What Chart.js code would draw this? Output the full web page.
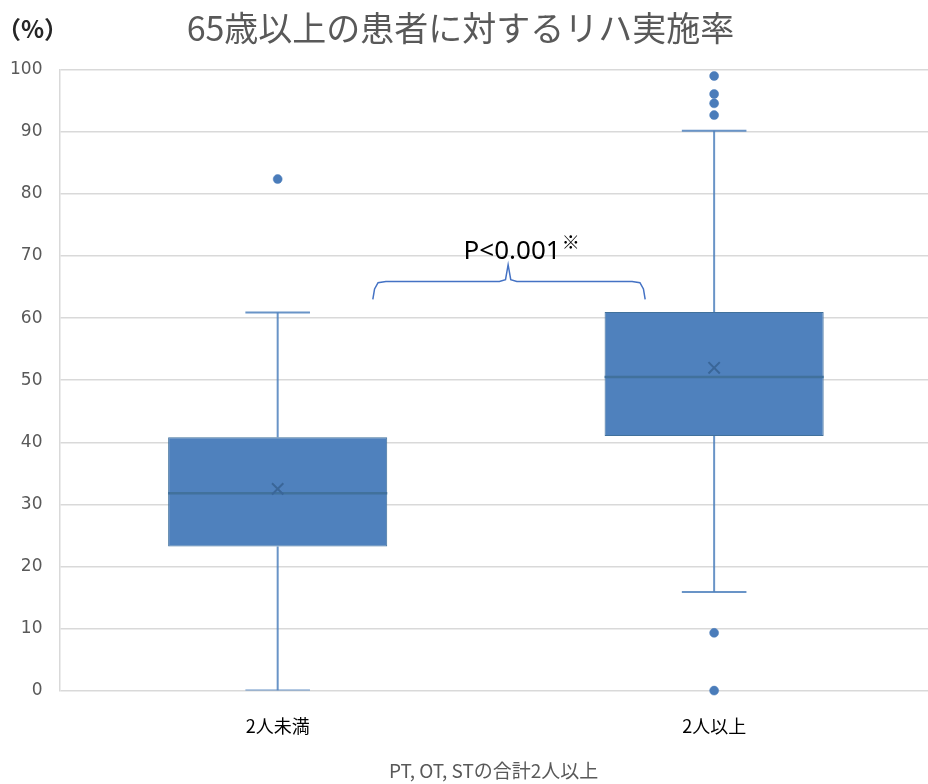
<!DOCTYPE html>
<html>
<head>
<meta charset="utf-8">
<script src="https://cdn.jsdelivr.net/npm/chart.js@4/dist/chart.umd.min.js"></script>
<style>
  html, body { margin: 0; padding: 0; background: #ffffff; }
  #wrap { width: 928px; height: 784px; }
</style>
</head>
<body>
<div id="wrap"><canvas id="c" width="928" height="784"></canvas></div>
<script>
// ---- data ----
const categories = ['2人未満', '2人以上'];
const whiskerLow  = [0.0, 15.9];
const q1          = [23.2, 41.0];
const median      = [31.8, 50.5];
const q3          = [40.8, 61.0];
const whiskerHigh = [60.9, 90.2];
const mean        = [32.5, 52.0];
const outliersGroup1 = [82.4];
const outliersGroup2 = [99.0, 96.1, 94.6, 92.7, 9.3, 0.0];
const yTicks = [0, 10, 20, 30, 40, 50, 60, 70, 80, 90, 100];

const titleText = '65歳以上の患者に対するリハ実施率';
const unitText = '（%）';
const xAxisTitle = 'PT, OT, STの合計2人以上';
const pValueText = 'P<0.001';
const pValueMark = '※';

// bracket between the groups (x in category units, y in %)
const bracketFromX = 1.218, bracketToX = 1.842, bracketMidX = 1.528;
const bracketEndY = 63.0, bracketBarY = 65.9, bracketTipY = 68.6;

// ---- styles ----
const BOX_FILL = '#4F81BD';
const BOX_EDGE = '#41719C';
const WHISKER = 'rgba(79,129,189,0.85)';
const boxHalf = 0.251;
const capHalf = 0.074;

const outliers = [outliersGroup1, outliersGroup2];

const whiskerPts = [];
const capPts = [];
const medianPts = [];
categories.forEach((c, i) => {
  const x = i + 1;
  whiskerPts.push({x, y: q3[i]}, {x, y: whiskerHigh[i]}, {x, y: null});
  whiskerPts.push({x, y: q1[i]}, {x, y: whiskerLow[i]}, {x, y: null});
  capPts.push({x: x - capHalf, y: whiskerHigh[i]}, {x: x + capHalf, y: whiskerHigh[i]}, {x, y: null});
  capPts.push({x: x - capHalf, y: whiskerLow[i]}, {x: x + capHalf, y: whiskerLow[i]}, {x, y: null});
  medianPts.push({x: x - boxHalf, y: median[i]}, {x: x + boxHalf, y: median[i]}, {x, y: null});
});
const boxData = categories.map((c, i) => ({x: i + 1, y: [q1[i], q3[i]]}));
const meanData = categories.map((c, i) => ({x: i + 1, y: mean[i]}));
const outlierData = [];
outliers.forEach((arr, i) => arr.forEach(v => outlierData.push({x: i + 1, y: v})));

const bracketPts = [
  {x: bracketFromX, y: bracketEndY},
  {x: bracketFromX + 0.004, y: bracketBarY - 1.2},
  {x: bracketFromX + 0.012, y: bracketBarY - 0.2},
  {x: bracketFromX + 0.03, y: bracketBarY},
  {x: bracketMidX - 0.02, y: bracketBarY},
  {x: bracketMidX - 0.006, y: bracketBarY + 0.3},
  {x: bracketMidX, y: bracketTipY},
  {x: bracketMidX + 0.006, y: bracketBarY + 0.3},
  {x: bracketMidX + 0.02, y: bracketBarY},
  {x: bracketToX - 0.03, y: bracketBarY},
  {x: bracketToX - 0.012, y: bracketBarY - 0.2},
  {x: bracketToX - 0.004, y: bracketBarY - 1.2},
  {x: bracketToX, y: bracketEndY}
];

const textPlugin = {
  id: 'extraText',
  afterDatasetsDraw(chart) {
    const ctx = chart.ctx;
    const xs = chart.scales.x, ys = chart.scales.y;
    ctx.save();
    ctx.fillStyle = '#262626';
    ctx.font = 'bold 24px "Noto Sans CJK JP"';
    ctx.textAlign = 'left';
    ctx.textBaseline = 'middle';
    ctx.fillText(unitText, -3, 29);
    ctx.fillStyle = '#000000';
    ctx.font = '26px "Noto Sans"';
    ctx.textBaseline = 'alphabetic';
    const px = xs.getPixelForValue(bracketMidX);
    const py = ys.getPixelForValue(bracketTipY + 1.0);
    const w = ctx.measureText(pValueText).width;
    const left = px - w / 2 + 4;
    ctx.fillText(pValueText, left, py);
    ctx.font = '18px "Noto Sans CJK JP"';
    ctx.fillText(pValueMark, left + w + 1, py - 10);
    ctx.restore();
  }
};

new Chart(document.getElementById('c'), {
  type: 'bar',
  data: {
    datasets: [
      { type: 'line', label: 'whiskers', data: whiskerPts, borderColor: WHISKER, borderWidth: 2,
        pointRadius: 0, spanGaps: false, order: 3 },
      { type: 'line', label: 'caps', data: capPts, borderColor: WHISKER, borderWidth: 2,
        pointRadius: 0, spanGaps: false, order: 3 },
      { type: 'bar', label: 'box', data: boxData, backgroundColor: BOX_FILL, borderColor: BOX_EDGE,
        borderWidth: 1, borderSkipped: false, categoryPercentage: 1.0, barPercentage: 0.502, order: 2 },
      { type: 'line', label: 'median', data: medianPts, borderColor: BOX_EDGE, borderWidth: 2.5,
        pointRadius: 0, spanGaps: false, order: 1 },
      { type: 'scatter', label: 'mean', data: meanData, pointStyle: 'crossRot', pointRadius: 8,
        borderColor: '#3A6698', borderWidth: 2, backgroundColor: '#3A6698', order: 0 },
      { type: 'scatter', label: 'outliers', data: outlierData, pointStyle: 'circle', pointRadius: 4.5,
        backgroundColor: '#4A7CBA', borderColor: '#4A7CBA', borderWidth: 0.5, order: 0, clip: false },
      { type: 'line', label: 'bracket', data: bracketPts, borderColor: '#4472C4', borderWidth: 1.5,
        pointRadius: 0, tension: 0, order: 0 }
    ]
  },
  options: {
    responsive: false,
    animation: false,
    events: [],
    layout: { autoPadding: false, padding: { left: -7, right: 0, top: 0, bottom: 0 } },
    plugins: {
      legend: { display: false },
      tooltip: { enabled: false },
      title: {
        display: true, text: titleText, color: '#595959',
        font: { family: '"Noto Sans CJK JP"', size: 34, weight: 'normal' },
        padding: { top: 8, bottom: 21 }
      }
    },
    scales: {
      x: {
        type: 'linear', min: 0.5, max: 2.49, offset: false,
        afterBuildTicks: (scale) => { scale.ticks = categories.map((c, i) => ({value: i + 1})); },
        grid: { display: false, drawTicks: false },
        border: { display: false },
        ticks: {
          color: '#000000', padding: 25, maxRotation: 0, autoSkip: false,
          font: { family: '"Noto Sans CJK JP"', size: 18 },
          callback: (v) => categories[Math.round(v) - 1] || ''
        },
        title: {
          display: true, text: xAxisTitle, color: '#595959',
          font: { family: '"Noto Sans CJK JP"', size: 19 },
          padding: { top: -3, bottom: 2 }
        }
      },
      y: {
        min: 0, max: 100,
        afterBuildTicks: (scale) => { scale.ticks = yTicks.map(v => ({value: v})); },
        grid: { color: '#D9D9D9', lineWidth: 1.5, drawTicks: false },
        border: { display: true, color: '#D9D9D9', width: 1.5 },
        ticks: {
          color: '#595959', padding: 17,
          font: { family: '"DejaVu Sans"', size: 17 }
        }
      }
    }
  },
  plugins: [textPlugin]
});
</script>
</body>
</html>
